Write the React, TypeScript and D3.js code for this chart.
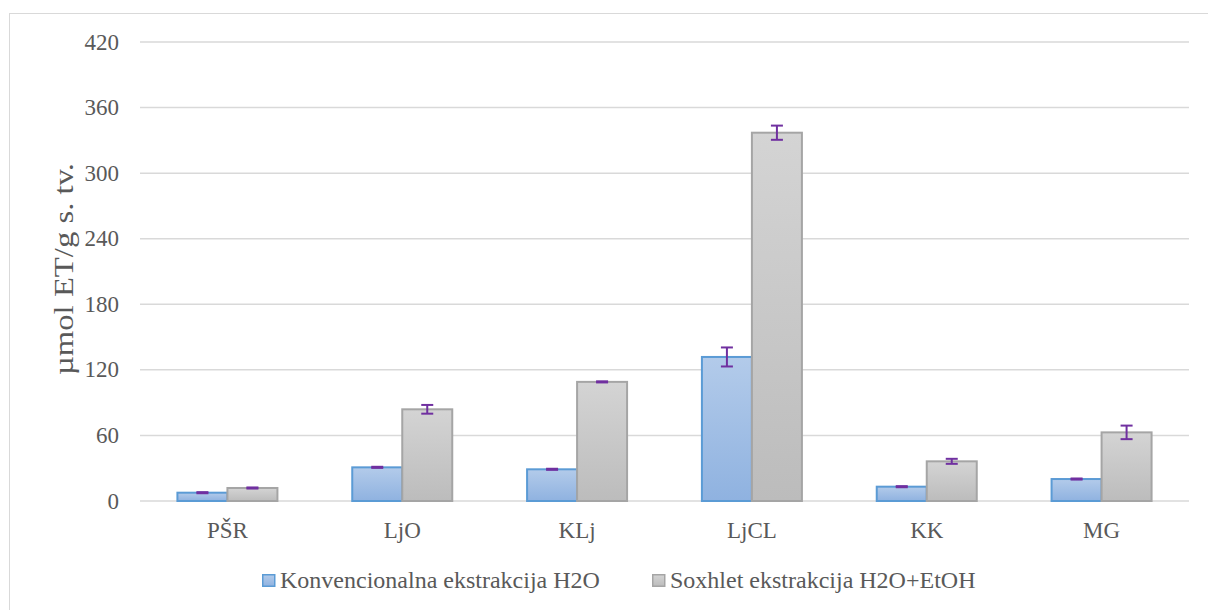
import React from "react";
import * as d3 from "d3";

const categories = ["PŠR", "LjO", "KLj", "LjCL", "KK", "MG"];
const seriesNames = ["Konvencionalna ekstrakcija H2O", "Soxhlet ekstrakcija H2O+EtOH"];
const konvValues = [7.6, 30.8, 29, 131.8, 13.1, 20.1];
const konvErrors = [0.5, 0.5, 0.5, 8.7, 0.5, 0.5];
const soxValues = [11.9, 83.9, 109, 337, 36.3, 62.8];
const soxErrors = [0.5, 4, 0.5, 6.5, 2.3, 6.2];
const yTicks = [0, 60, 120, 180, 240, 300, 360, 420];
const yTitle = "µmol ET/g s. tv.";

const W = 1208;
const H = 610;
const left = 140;
const right = 1189;
const top = 42;
const bottom = 501;
const textColor = "#595959";
const font = "Liberation Serif, Times New Roman, DejaVu Serif, serif";
const ts = { fontFamily: font };

export default function App() {
  const x0 = d3.scaleBand<string>().domain(categories).range([left, right]).paddingInner(0.428).paddingOuter(0.214);
  const x1 = d3.scaleBand<string>().domain(["a", "b"]).range([0, x0.bandwidth()]);
  const y = d3.scaleLinear().domain([0, 420]).range([bottom, top]);
  const series = [
    { key: "a", values: konvValues, errors: konvErrors, fill: "url(#gBlue)", stroke: "#5b9bd5" },
    { key: "b", values: soxValues, errors: soxErrors, fill: "url(#gGray)", stroke: "#a5a5a5" },
  ];
  return (
    <svg width={W} height={H} style={{ position: "absolute", left: 0, top: 0, fontFamily: font }}>
      <defs>
        <linearGradient id="gBlue" x1="0" y1="0" x2="0" y2="1">
          <stop offset="0" stopColor="#b3cbea" />
          <stop offset="1" stopColor="#8fb2e0" />
        </linearGradient>
        <linearGradient id="gGray" x1="0" y1="0" x2="0" y2="1">
          <stop offset="0" stopColor="#d4d4d4" />
          <stop offset="1" stopColor="#bcbcbc" />
        </linearGradient>
      </defs>
      <rect x={0} y={0} width={W} height={H} fill="#fff" />
      <rect x={9.5} y={13.5} width={W} height={H} fill="none" stroke="#d9d9d9" strokeWidth={1} />
      {yTicks.map((t) => (
        <g key={t}>
          <line x1={left} x2={right} y1={y(t)} y2={y(t)} stroke="#d9d9d9" strokeWidth={1.5} />
          <text x={119} y={y(t)} dy="0.33em" textAnchor="end" fontSize={23} fill={textColor} style={ts}>
            {t}
          </text>
        </g>
      ))}
      <text
        transform={`translate(73,269) rotate(-90)`}
        textAnchor="middle"
        fontSize={27}
        fill={textColor}
        style={ts}
        textLength={212}
        lengthAdjust="spacingAndGlyphs"
      >
        {yTitle}
      </text>
      {categories.map((c, i) => (
        <g key={c}>
          {series.map((s) => {
            const bx = (x0(c) as number) + (x1(s.key) as number);
            const bw = x1.bandwidth();
            const v = s.values[i];
            const e = s.errors[i];
            const cx = bx + bw / 2;
            return (
              <g key={s.key}>
                <rect x={bx} y={y(v)} width={bw} height={y(0) - y(v)} fill={s.fill} stroke={s.stroke} strokeWidth={2} />
                <line x1={cx} x2={cx} y1={y(v + e)} y2={y(v - e)} stroke="#7030a0" strokeWidth={2} />
                <line x1={cx - 6} x2={cx + 6} y1={y(v + e)} y2={y(v + e)} stroke="#7030a0" strokeWidth={2} />
                <line x1={cx - 6} x2={cx + 6} y1={y(v - e)} y2={y(v - e)} stroke="#7030a0" strokeWidth={2} />
              </g>
            );
          })}
          <text
            x={(x0(c) as number) + x0.bandwidth() / 2}
            y={530}
            dy="0.33em"
            textAnchor="middle"
            fontSize={23}
            fill={textColor}
            style={ts}
          >
            {c}
          </text>
        </g>
      ))}
      {seriesNames.map((n, i) => {
        const lx = [262, 652][i];
        return (
          <g key={n}>
            <rect x={lx + 0.75} y={574.75} width={12} height={11.5} fill={series[i].fill} stroke={series[i].stroke} strokeWidth={1.5} />
            <text x={lx + 18} y={580} dy="0.33em" fontSize={24} fill={textColor} style={ts}>
              {n}
            </text>
          </g>
        );
      })}
    </svg>
  );
}
